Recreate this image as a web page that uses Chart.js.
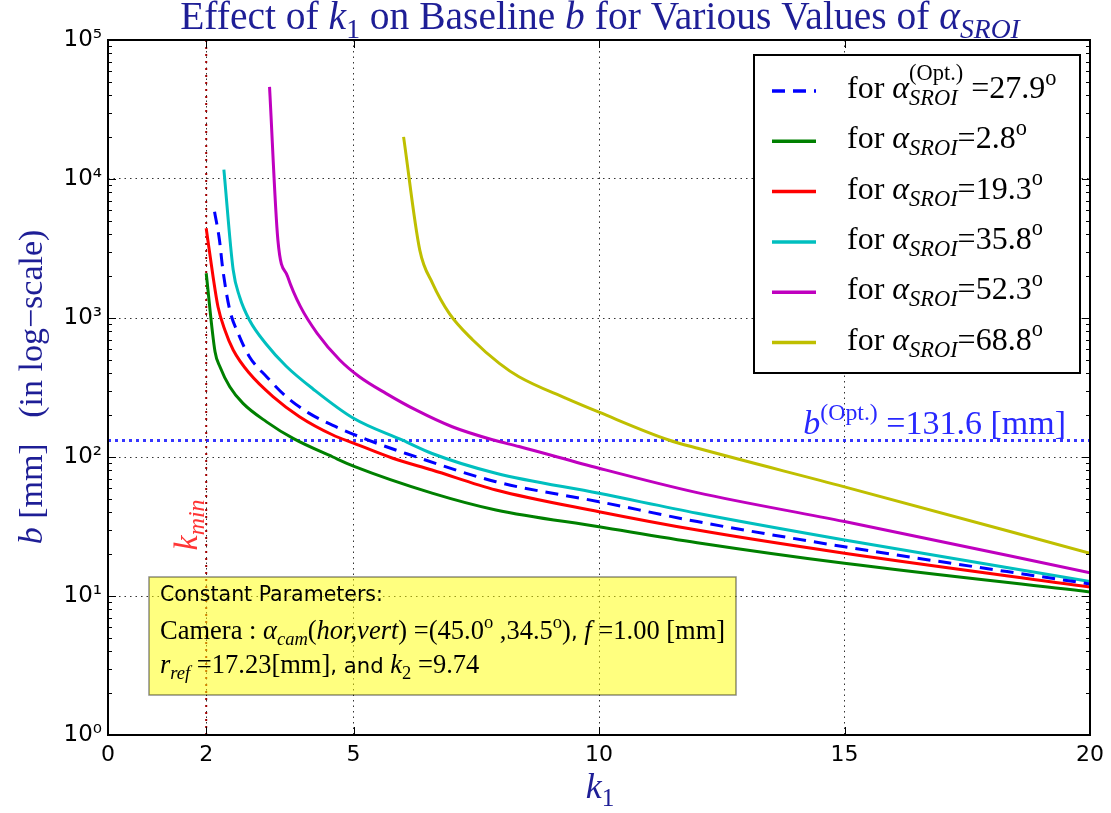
<!DOCTYPE html>
<html>
<head>
<meta charset="utf-8">
<script src="https://cdn.jsdelivr.net/npm/chart.js@4.4.0/dist/chart.umd.min.js"></script>
<style>
html, body { margin: 0; padding: 0; background: #fff; }
canvas { display: block; }
</style>
</head>
<body>
<canvas id="chartBaseline" width="1111" height="813"></canvas>
<script>
// k1 / b pairs per alpha_SROI curve
const alphaVals = [27.9, 2.8, 19.3, 35.8, 52.3, 68.8];

const k279 = [2.17, 2.27, 2.34, 2.48, 2.65, 2.88, 3.23, 3.63, 4.1, 4.71, 5.26, 6.07, 7.9, 10, 12, 15, 20];
const b279 = [5820, 3640, 2213, 1142, 776, 527, 378, 272, 206, 161, 134, 106, 66.4, 47.7, 34.3, 22.6, 12.2];

const k28 = [2.0, 2.18, 2.28, 2.48, 2.75, 3.23, 3.77, 4.58, 5.0, 6.6, 7.9, 10, 12, 15, 20];
const b28 = [2100, 572, 446, 320, 243, 179, 136, 100, 86, 55, 41.6, 31.5, 24.2, 17.2, 10.7];

const k193 = [2.0, 2.14, 2.24, 2.38, 2.55, 2.88, 3.36, 3.9, 4.58, 5.0, 5.8, 6.6, 7.9, 10, 12, 15, 20];
const b193 = [4420, 1983, 1206, 820, 589, 400, 272, 195, 144, 126, 98, 80.6, 57.9, 40.4, 29.8, 20.3, 11.6];

const k358 = [2.36, 2.55, 2.68, 2.88, 3.22, 3.63, 4.17, 5.0, 6.0, 6.6, 7.9, 10, 12, 15, 20];
const b358 = [11700, 2213, 1423, 968, 650, 450, 310, 190, 132, 106, 76.4, 54.8, 39.4, 25.3, 12.7];

const k523 = [3.29, 3.46, 3.66, 3.92, 4.26, 4.72, 5.12, 5.66, 6.27, 7.01, 7.83, 8.37, 10, 12, 15, 20];
const b523 = [46000, 3640, 1983, 1206, 776, 499, 378, 287, 218, 165, 133, 119, 83, 55.4, 34.3, 14.7];

const k688 = [6.02, 6.35, 6.61, 6.95, 7.43, 7.97, 8.37, 9.32, 10, 11.42, 12.03, 15, 20];
const b688 = [20100, 3080, 1777, 1081, 695, 472, 378, 265, 210, 132.5, 115, 61, 20.3];

const bOptimal = 131.6;
const kMin = 2.0;

const xTicks = [0, 2, 5, 10, 15, 20];
const yDecades = [1, 10, 100, 1000, 10000, 100000];

const series = [
    { k: k279, b: b279, color: '#0000ff', dash: [13, 8] },
    { k: k28,  b: b28,  color: '#008000' },
    { k: k193, b: b193, color: '#ff0000' },
    { k: k358, b: b358, color: '#00bfbf' },
    { k: k523, b: b523, color: '#bf00bf' },
    { k: k688, b: b688, color: '#bfbf00' }
];

// --- rich text (italic / sub / sup) ---
function fontFor(p, size) {
    const fam = p.sans ? '"DejaVu Sans"' : '"Liberation Serif"';
    return (p.it ? 'italic ' : '') + size + 'px ' + fam;
}
function layoutRich(ctx, parts, size) {
    let w = 0;
    const items = parts.map(p => {
        const s = size * (p.sz || 1) * ((p.sub || p.sup) ? 0.7 : 1);
        ctx.font = fontFor(p, s);
        let pw = ctx.measureText(p.t).width;
        if (p.over) {
            ctx.font = fontFor({}, s);
            pw = Math.max(pw, ctx.measureText(p.over).width);
        }
        const it = { p: p, s: s, x: w };
        w += pw;
        return it;
    });
    return { items: items, w: w };
}
function drawRich(ctx, parts, x, y, size, color, align) {
    ctx.save();
    const L = layoutRich(ctx, parts, size);
    const x0 = align === 'center' ? x - L.w / 2 : (align === 'right' ? x - L.w : x);
    ctx.fillStyle = color;
    ctx.textAlign = 'left';
    ctx.textBaseline = 'alphabetic';
    L.items.forEach(it => {
        const p = it.p;
        const dy = p.sub ? size * 0.22 : (p.sup ? -size * 0.42 : 0);
        ctx.font = fontFor(p, it.s);
        ctx.fillText(p.t, x0 + it.x, y + dy);
        if (p.over) {
            ctx.font = fontFor({}, it.s);
            ctx.fillText(p.over, x0 + it.x, y - size * 0.55);
        }
    });
    ctx.restore();
    return L.w;
}

function legendParts(i) {
    const a = alphaVals[i].toFixed(1);
    if (i === 0) {
        return [{ t: 'for ' }, { t: 'α', it: 1 }, { t: 'SROI', it: 1, sub: 1, over: '(Opt.)' },
                { t: ' =' + a }, { t: 'o', sup: 1 }];
    }
    return [{ t: 'for ' }, { t: 'α', it: 1 }, { t: 'SROI', it: 1, sub: 1 }, { t: '=' + a }, { t: 'o', sup: 1 }];
}

const decor = {
    id: 'decor',
    beforeDraw(chart) {
        const ctx = chart.ctx;
        ctx.save();
        ctx.fillStyle = '#fff';
        ctx.fillRect(0, 0, chart.width, chart.height);
        ctx.restore();
    },
    afterDraw(chart) {
        const ctx = chart.ctx;
        const a = chart.chartArea;
        const xs = chart.scales.x, ys = chart.scales.y;
        const navy = '#1e1e96';

        // frame and inward ticks
        ctx.save();
        ctx.strokeStyle = '#000';
        ctx.lineWidth = 1;
        xTicks.forEach(v => {
            const px = Math.round(xs.getPixelForValue(v)) + 0.5;
            ctx.beginPath();
            ctx.moveTo(px, a.bottom); ctx.lineTo(px, a.bottom - 8);
            ctx.moveTo(px, a.top); ctx.lineTo(px, a.top + 8);
            ctx.stroke();
        });
        yDecades.forEach(d => {
            for (let m = 1; m <= 9; m++) {
                const v = d * m;
                if (v > 100000) break;
                const py = Math.round(ys.getPixelForValue(v)) + 0.5;
                const len = m === 1 ? 8 : 4;
                ctx.beginPath();
                ctx.moveTo(a.left, py); ctx.lineTo(a.left + len, py);
                ctx.moveTo(a.right, py); ctx.lineTo(a.right - len, py);
                ctx.stroke();
            }
        });
        ctx.lineWidth = 2;
        ctx.strokeRect(a.left, a.top, a.right - a.left, a.bottom - a.top);
        ctx.restore();

        // title and axis titles
        drawRich(ctx, [{ t: 'Effect of ' }, { t: 'k', it: 1 }, { t: '1', sub: 1 }, { t: ' on Baseline ' },
                       { t: 'b', it: 1 }, { t: ' for Various Values of ' }, { t: 'α', it: 1 },
                       { t: 'SROI', it: 1, sub: 1 }], 600, 29, 39.5, navy, 'center');
        drawRich(ctx, [{ t: 'k', it: 1 }, { t: '1', sub: 1 }], 600, 798, 36, navy, 'center');
        ctx.save();
        ctx.translate(42, 387);
        ctx.rotate(-Math.PI / 2);
        drawRich(ctx, [{ t: 'b', it: 1 }, { t: ' [mm]   (in log−scale)' }], 0, 0, 34, navy, 'center');
        ctx.restore();

        // k_min label
        ctx.save();
        ctx.translate(197, 525);
        ctx.rotate(-Math.PI / 2);
        drawRich(ctx, [{ t: 'k', it: 1 }, { t: 'min', it: 1, sub: 1 }], 0, 0, 34, '#ff3535', 'center');
        ctx.restore();

        // b_opt label
        const yOpt = ys.getPixelForValue(bOptimal);
        drawRich(ctx, [{ t: 'b', it: 1 }, { t: '(Opt.)', sup: 1 }, { t: ' =' + bOptimal.toFixed(1) + ' [mm]' }],
                 1066, yOpt - 6, 34, '#2828ff', 'right');

        // constants box
        ctx.save();
        ctx.fillStyle = 'rgba(255,255,0,0.5)';
        ctx.fillRect(149, 577, 587, 118);
        ctx.strokeStyle = 'rgba(0,0,0,0.45)';
        ctx.lineWidth = 1.5;
        ctx.strokeRect(149, 577, 587, 118);
        ctx.restore();
        drawRich(ctx, [{ t: 'Constant Parameters:', sans: 1 }], 160, 601, 20.5, '#000', 'left');
        drawRich(ctx, [{ t: 'Camera : ' }, { t: 'α', it: 1 }, { t: 'cam', it: 1, sub: 1 }, { t: '(' },
                       { t: 'hor,vert', it: 1 }, { t: ') =(45.0' }, { t: 'o', sup: 1 }, { t: ' ,34.5' },
                       { t: 'o', sup: 1 }, { t: ')' }, { t: ', ', sans: 1, sz: 0.8 }, { t: 'f', it: 1 },
                       { t: ' =1.00 [mm]' }], 160, 639, 26.5, '#000', 'left');
        drawRich(ctx, [{ t: 'r', it: 1 }, { t: 'ref', it: 1, sub: 1 }, { t: ' =17.23[mm]' },
                       { t: ', and ', sans: 1, sz: 0.8 }, { t: 'k', it: 1 }, { t: '2', sub: 1 }, { t: ' =9.74' }],
                 160, 673, 26.5, '#000', 'left');

        // legend
        const lx = 754, ly = 55, lw = 326, lh = 318;
        ctx.save();
        ctx.fillStyle = '#fff';
        ctx.fillRect(lx, ly, lw, lh);
        ctx.strokeStyle = '#000';
        ctx.lineWidth = 2;
        ctx.strokeRect(lx, ly, lw, lh);
        series.forEach((s, i) => {
            const ry = 91 + i * 50.3;
            ctx.strokeStyle = s.color;
            ctx.lineWidth = 3.5;
            ctx.setLineDash(s.dash || []);
            ctx.beginPath();
            ctx.moveTo(772, ry); ctx.lineTo(816, ry);
            ctx.stroke();
            ctx.setLineDash([]);
            drawRich(ctx, legendParts(i), 847, ry + 7, 32, '#000', 'left');
        });
        ctx.restore();
    }
};

const supDigits = ['⁰', '¹', '²', '³', '⁴', '⁵'];

const datasets = series.map((s, i) => ({
    label: 'alpha ' + alphaVals[i],
    data: s.k.map((k, j) => ({ x: k, y: s.b[j] })),
    borderColor: s.color,
    borderWidth: 3,
    borderDash: s.dash || [],
    pointRadius: 0,
    fill: false,
    cubicInterpolationMode: 'monotone'
}));
datasets.push({
    label: 'b opt',
    data: [{ x: 0, y: bOptimal }, { x: 20, y: bOptimal }],
    borderColor: 'rgba(20,20,255,0.85)',
    borderWidth: 3,
    borderDash: [3, 4],
    pointRadius: 0
});
datasets.push({
    label: 'k min',
    data: [{ x: kMin, y: 1 }, { x: kMin, y: 100000 }],
    borderColor: '#a00000',
    borderWidth: 2,
    borderDash: [2, 5],
    pointRadius: 0
});

new Chart(document.getElementById('chartBaseline'), {
    type: 'line',
    data: { datasets: datasets },
    options: {
        responsive: false,
        animation: false,
        devicePixelRatio: 1,
        layout: { padding: { top: 40, right: 19, left: 0, bottom: 0 } },
        plugins: { legend: { display: false }, tooltip: { enabled: false } },
        scales: {
            x: {
                type: 'linear', min: 0, max: 20,
                afterBuildTicks: ax => { ax.ticks = xTicks.map(v => ({ value: v })); },
                afterFit: sc => { sc.height = 78; },
                ticks: { color: '#000', font: { family: 'DejaVu Sans', size: 22 }, padding: 7, maxRotation: 0, autoSkip: false },
                grid: { color: '#333', lineWidth: 1, drawTicks: false },
                border: { display: false, dash: [1.5, 4] }
            },
            y: {
                type: 'logarithmic', min: 1, max: 100000,
                afterBuildTicks: ax => { ax.ticks = yDecades.map(v => ({ value: v })); },
                afterFit: sc => { sc.width = 108; },
                ticks: {
                    color: '#000', font: { family: 'DejaVu Sans', size: 23 }, padding: 6,
                    callback: v => '10' + supDigits[Math.round(Math.log10(v))]
                },
                grid: { color: '#333', lineWidth: 1, drawTicks: false },
                border: { display: false, dash: [1.5, 4] }
            }
        }
    },
    plugins: [decor]
});
</script>
</body>
</html>
